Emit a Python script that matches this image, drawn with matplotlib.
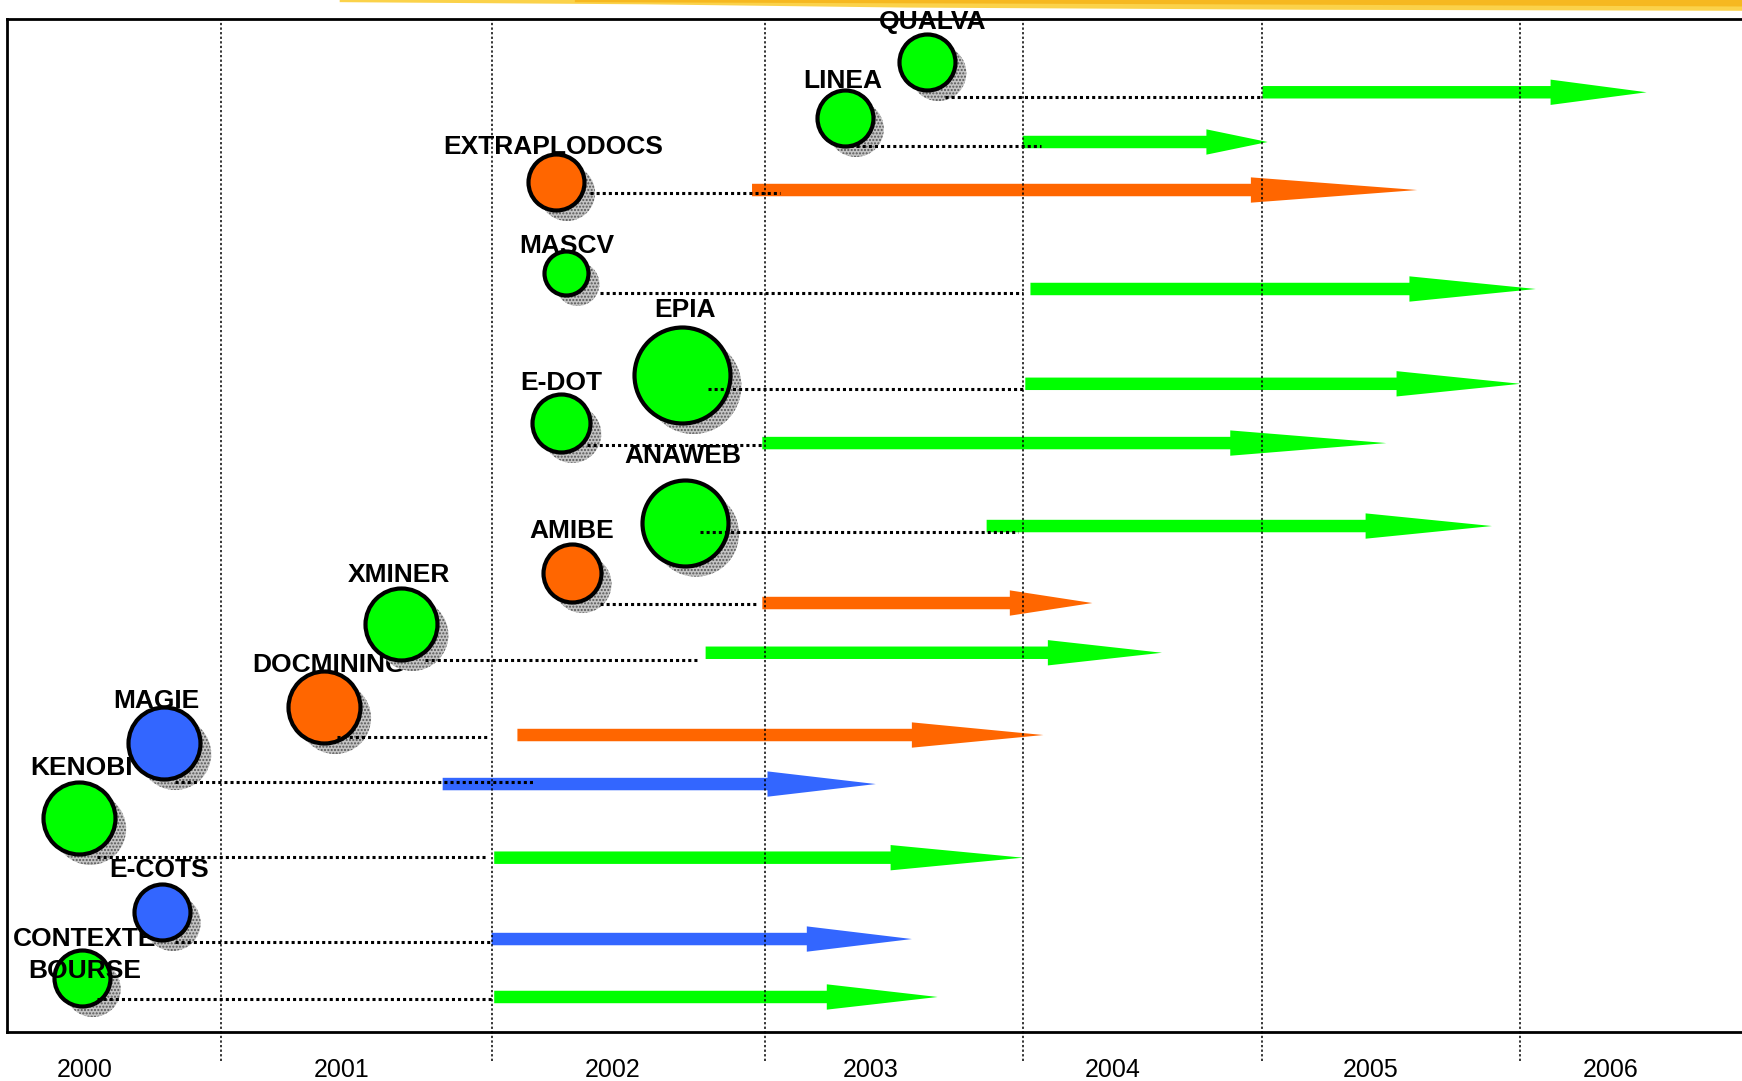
import matplotlib
matplotlib.use("Agg")
import matplotlib.pyplot as plt
from matplotlib.patches import FancyArrow, Polygon
from matplotlib.transforms import offset_copy


# Data (x in years, y in relative row height 0..100)
projects = ['QUALVA', 'LINEA', 'EXTRAPLODOCS', 'MASCV', 'EPIA', 'E-DOT', 'ANAWEB',
            'AMIBE', 'XMINER', 'DOCMINING', 'MAGIE', 'KENOBI', 'E-COTS', 'CONTEXTE\nBOURSE']
status = ['green', 'green', 'orange', 'green', 'green', 'green', 'green',
          'orange', 'green', 'orange', 'blue', 'green', 'blue', 'green']

bubble_x = [2003.27, 2002.95, 2001.83, 2001.87, 2002.32, 2001.85, 2002.33,
            2001.89, 2001.23, 2000.93, 2000.31, 1999.98, 2000.30, 1999.99]
bubble_y = [95.75, 90.23, 83.91, 74.93, 64.86, 60.12, 50.28,
            45.31, 40.28, 32.08, 28.53, 21.13, 11.85, 5.33]
bubble_r = [30, 30, 30, 24, 50, 31, 45, 31, 38, 38, 38, 38, 30, 30]

label_x = [2003.29, 2002.94, 2001.82, 2001.87, 2002.33, 2001.85, 2002.32,
           2001.89, 2001.22, 2000.95, 2000.28, 1999.99, 2000.29, 2000.00]
label_y = [99.01, 93.24, 86.72, 76.90, 70.63, 63.33, 56.22,
           48.72, 44.47, 35.59, 32.03, 25.42, 15.30, 5.33]

link_start = [2003.34, 2002.97, 2001.96, 2002.00, 2002.42, 2001.95, 2002.39,
              2002.00, 2001.32, 2000.98, 2000.35, 2000.05, 2000.35, 2000.05]
link_end = [2004.57, 2003.71, 2002.70, 2003.64, 2003.65, 2002.63, 2003.62,
            2002.61, 2002.38, 2001.57, 2001.74, 2001.56, 2001.58, 2001.59]
link_y = [92.30, 87.46, 82.82, 72.95, 63.47, 57.95, 49.36,
          42.25, 36.72, 29.12, 24.68, 17.28, 8.88, 3.26]

arrow_start = [2004.57, 2003.64, 2002.59, 2003.67, 2003.65, 2002.63, 2003.50,
               2002.63, 2002.41, 2001.68, 2001.39, 2001.59, 2001.58, 2001.59]
arrow_end = [2006.06, 2004.59, 2005.17, 2005.63, 2005.57, 2005.05, 2005.46,
             2003.91, 2004.18, 2003.72, 2003.07, 2003.64, 2003.21, 2003.31]
arrow_y = [92.77, 87.86, 83.12, 73.35, 63.99, 58.14, 49.95,
           42.35, 37.44, 29.32, 24.48, 17.21, 9.18, 3.46]

years = ['2000', '2001', '2002', '2003', '2004', '2005', '2006']
year_label_pos = [2000.00, 2001.00, 2002.05, 2003.05, 2003.99, 2004.99, 2005.92]
year_breaks = [2000.53, 2001.58, 2002.64, 2003.64, 2004.57, 2005.57]

colors = {'green': '#00ff00', 'orange': '#ff6600', 'blue': '#3366ff'}


# Plotting
fig = plt.figure(figsize=(17.42, 10.81), dpi=100)
ax = fig.add_axes([0.004, 0.0453, 0.996, 0.9371])
ax.set_xlim(1999.70, 2006.43)
ax.set_ylim(0, 100)

for s in ['top', 'bottom', 'left']:
    ax.spines[s].set_linewidth(2)
ax.spines['right'].set_visible(False)
ax.set_yticks([])
ax.set_xticks(year_label_pos)
ax.set_xticklabels(years, fontsize=18, family='Liberation Sans')
ax.tick_params(axis='x', length=0, pad=19)

# year separators
for b in year_breaks:
    ax.plot([b, b], [-2.9, 100], color='black', lw=1.1, ls=(0, (1.5, 1.5)),
            clip_on=False, zorder=1.5)

# arrows
for xs, xe, y, st in zip(arrow_start, arrow_end, arrow_y, status):
    dx = xe - xs
    ax.add_patch(FancyArrow(xs, y, dx, 0, width=1.23, head_width=2.5,
                            head_length=0.25 * dx, length_includes_head=True,
                            color=colors[st], lw=0, zorder=1))

# dotted links
for xs, xe, y in zip(link_start, link_end, link_y):
    ax.plot([xs, xe], [y, y], color='black', lw=2.2, ls=(0, (1, 1)), zorder=10)

# bubbles, drawn bottom to top so upper bubbles cover lower labels
shadow_tr = offset_copy(ax.transData, fig=fig, x=11, y=-11, units='dots')
n = len(projects)
for k, i in enumerate(range(n - 1, -1, -1)):
    z = 2 + k * 0.1
    size = ((2 * bubble_r[i] - 4) * 0.72) ** 2
    ax.scatter([bubble_x[i]], [bubble_y[i]], s=size, c='#c4c4c4', edgecolors='#555555',
               linewidths=0, hatch='.....', transform=shadow_tr, zorder=z)
    ax.scatter([bubble_x[i]], [bubble_y[i]], s=size, c=colors[status[i]],
               edgecolors='black', linewidths=3.0, zorder=z + 0.01)
    ax.text(label_x[i], label_y[i], projects[i], ha='center', va='baseline',
            fontsize=19, fontweight='bold', family='Liberation Sans',
            linespacing=1.4, zorder=z + 0.02)

# brush stroke decoration at the top of the slide
fig.add_artist(Polygon([(0.195, 1.0), (1.0, 1.0), (1.0, 0.990), (0.75, 0.991),
                        (0.52, 0.993), (0.37, 0.996), (0.195, 0.998)],
                       closed=True, transform=fig.transFigure,
                       facecolor='#fbd24a', edgecolor='none', zorder=0))
fig.add_artist(Polygon([(0.33, 1.0), (1.0, 1.0), (1.0, 0.994), (0.7, 0.996), (0.33, 0.998)],
                       closed=True, transform=fig.transFigure,
                       facecolor='#f6b820', edgecolor='none', zorder=0))

fig.savefig('out.png', dpi=100)
